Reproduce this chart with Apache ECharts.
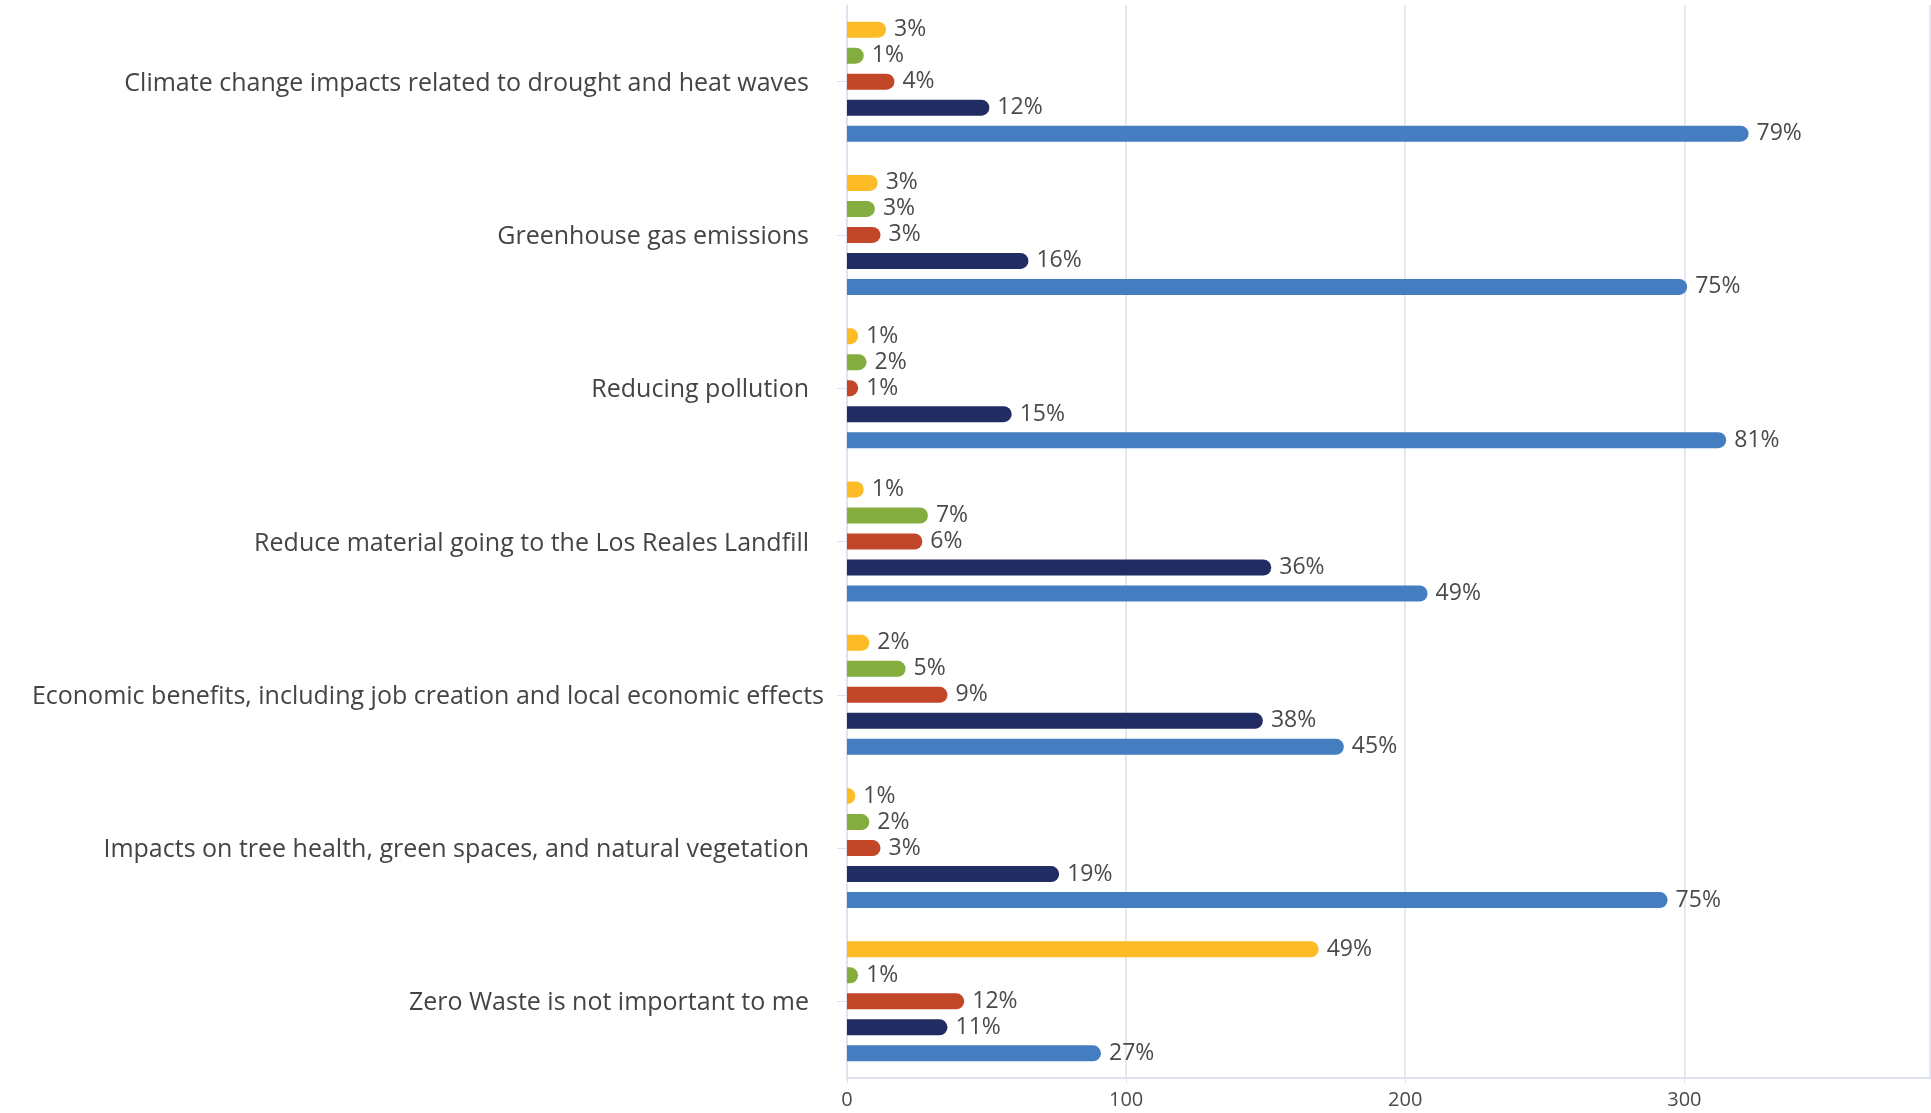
<!DOCTYPE html>
<html>
<head>
<meta charset="utf-8">
<script src="https://cdn.jsdelivr.net/npm/echarts@6/dist/echarts.min.js"></script>
<style>
  html, body { margin: 0; padding: 0; background: #fff; }
  #chart { width: 1931px; height: 1113px; }
</style>
</head>
<body>
<div id="chart"></div>
<script>
// categories, top to bottom
const categories = [
  'Climate change impacts related to drought and heat waves',
  'Greenhouse gas emissions',
  'Reducing pollution',
  'Reduce material going to the Los Reales Landfill',
  'Economic benefits, including job creation and local economic effects',
  'Impacts on tree health, green spaces, and natural vegetation',
  'Zero Waste is not important to me'
]
const longLabel = categories[4]

// counts (bar length) per series, one entry per category
const yellowVals = [14, 11, 4, 6, 8, 3, 169]
const greenVals = [6, 10, 7, 29, 21, 8, 4]
const redVals = [17, 12, 4, 27, 36, 12, 42]
const navyVals = [51, 65, 59, 152, 149, 76, 36]
const blueVals = [323, 301, 315, 208, 178, 294, 91]

// percent labels
const yellowPct = ['3%', '3%', '1%', '1%', '2%', '1%', '49%']
const greenPct = ['1%', '3%', '2%', '7%', '5%', '2%', '1%']
const redPct = ['4%', '3%', '1%', '6%', '9%', '3%', '12%']
const navyPct = ['12%', '16%', '15%', '36%', '38%', '19%', '11%']
const bluePct = ['79%', '75%', '81%', '49%', '45%', '75%', '27%']

const font = 'Open Sans'
const gridColor = '#dde0ee'

function makeSeries(name, vals, pcts, color) {
  return {
    name: name,
    type: 'bar',
    barWidth: 16,
    barGap: '62.5%',
    data: vals,
    itemStyle: { color: color, borderRadius: [0, 8, 8, 0] },
    label: {
      show: true,
      position: 'right',
      distance: 8,
      color: '#4a4a4a',
      fontFamily: font,
      fontSize: 23,
      formatter: p => pcts[p.dataIndex]
    },
    emphasis: { disabled: true }
  }
}

const myChart = echarts.init(document.getElementById('chart'))
const option = {
  backgroundColor: '#fff',
  animation: false,
  grid: { left: 847, right: 1, top: 5, bottom: 35, containLabel: false },
  xAxis: {
    type: 'value',
    min: 0,
    max: 388,
    interval: 100,
    axisLine: { show: true, lineStyle: { color: gridColor, width: 2 } },
    axisTick: { show: true, length: 5, lineStyle: { color: gridColor } },
    splitLine: { show: true, lineStyle: { color: gridColor, width: 1.5 } },
    axisLabel: {
      showMaxLabel: false,
      margin: 12,
      color: '#4a4a4a',
      fontFamily: font,
      fontSize: 20
    }
  },
  yAxis: {
    type: 'category',
    inverse: true,
    data: categories,
    axisLine: { show: true, lineStyle: { color: gridColor, width: 1.5 } },
    axisTick: { show: true, alignWithLabel: true, length: 10, lineStyle: { color: gridColor } },
    axisLabel: {
      margin: 23,
      formatter: v => (v === longLabel ? '{l|' + v + '}' : '{n|' + v + '}'),
      rich: {
        n: { color: '#444', fontFamily: font, fontSize: 25, padding: [4, 15, 0, 0] },
        l: { color: '#444', fontFamily: font, fontSize: 25, padding: [4, 0, 0, 0] }
      }
    }
  },
  series: [
    makeSeries('yellow', yellowVals, yellowPct, '#fdbb25'),
    makeSeries('green', greenVals, greenPct, '#83ad3e'),
    makeSeries('red', redVals, redPct, '#c24628'),
    makeSeries('navy', navyVals, navyPct, '#212c63'),
    makeSeries('blue', blueVals, bluePct, '#447ec1')
  ]
}
myChart.setOption(option)
</script>
</body>
</html>
